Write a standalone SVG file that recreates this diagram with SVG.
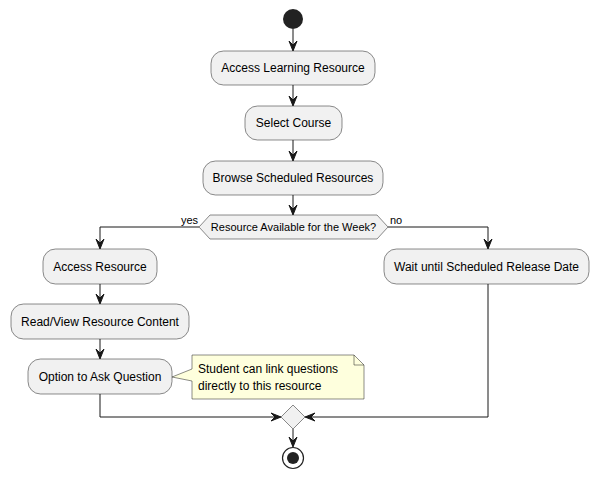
<svg xmlns="http://www.w3.org/2000/svg" width="599" height="480" viewBox="0 0 599 480">
<defs>
<style>
.box{fill:#F1F1F1;stroke:#181818;stroke-width:0.5}
.t{font-family:"Liberation Sans",Arial,sans-serif;font-size:12px;fill:#000}
.s{font-family:"Liberation Sans",Arial,sans-serif;font-size:11px;fill:#000}
.ln{fill:none;stroke:#181818;stroke-width:1}
.ah{fill:#181818;stroke:#181818;stroke-width:1}
</style>
</defs>
<rect width="599" height="480" fill="#FFFFFF"/>
<g id="start"><circle cx="293" cy="19" r="10" fill="#222222"/></g>
<g id="n1"><rect class="box" x="211" y="51" width="164" height="34" rx="12.5"/><text class="t" x="293" y="72" text-anchor="middle">Access Learning Resource</text></g>
<g id="n2"><rect class="box" x="245" y="106" width="97" height="34" rx="12.5"/><text class="t" x="293.5" y="127" text-anchor="middle">Select Course</text></g>
<g id="n3"><rect class="box" x="203" y="161" width="180" height="34" rx="12.5"/><text class="t" x="293" y="182" text-anchor="middle">Browse Scheduled Resources</text></g>
<g id="dec"><polygon class="box" points="199,227 210,215 377,215 388,227 377,239 210,239"/><text class="s" x="293.5" y="231" text-anchor="middle">Resource Available for the Week?</text></g>
<g id="n4"><rect class="box" x="43" y="249" width="114" height="35" rx="12.5"/><text class="t" x="100" y="271" text-anchor="middle">Access Resource</text></g>
<g id="n5"><rect class="box" x="11" y="304" width="178" height="35" rx="12.5"/><text class="t" x="100" y="326" text-anchor="middle">Read/View Resource Content</text></g>
<g id="n6"><rect class="box" x="28" y="359" width="144" height="35" rx="12.5"/><text class="t" x="100" y="381" text-anchor="middle">Option to Ask Question</text></g>
<g id="note"><path d="M192,355 L354,355 L364,365 L364,399 L192,399 L192,381 L172,377 L192,369 Z" fill="#FEFFDD" stroke="#181818" stroke-width="0.5"/><path d="M354,355 L354,365 L364,365" fill="none" stroke="#181818" stroke-width="0.5"/><text class="t" x="198" y="373">Student can link questions</text><text class="t" x="198" y="390">directly to this resource</text></g>
<g id="n7"><rect class="box" x="384" y="249" width="205" height="35" rx="12.5"/><text class="t" x="486.5" y="271" text-anchor="middle">Wait until Scheduled Release Date</text></g>
<g id="merge"><polygon class="box" points="293,405 305,417 293,429 281,417"/></g>
<g id="end"><circle cx="293" cy="458" r="10.5" fill="none" stroke="#222222" stroke-width="1.2"/><circle cx="293" cy="458" r="6" fill="#222222"/></g>
<g id="connectors">
<path class="ln" d="M293,29 L293,50"/><polygon class="ah" points="289,41 293,51 297,41 293,45"/>
<path class="ln" d="M293,85 L293,105"/><polygon class="ah" points="289,96 293,106 297,96 293,100"/>
<path class="ln" d="M293,140 L293,160"/><polygon class="ah" points="289,151 293,161 297,151 293,155"/>
<path class="ln" d="M293,195 L293,214"/><polygon class="ah" points="289,205 293,215 297,205 293,209"/>
<path class="ln" d="M199,227 L100,227 L100,248"/><polygon class="ah" points="96,239 100,249 104,239 100,243"/>
<text class="s" x="181" y="224">yes</text>
<path class="ln" d="M388,227 L488,227 L488,248"/><polygon class="ah" points="484,239 488,249 492,239 488,243"/>
<text class="s" x="390" y="224">no</text>
<path class="ln" d="M100,284 L100,303"/><polygon class="ah" points="96,294 100,304 104,294 100,298"/>
<path class="ln" d="M100,339 L100,358"/><polygon class="ah" points="96,349 100,359 104,349 100,353"/>
<path class="ln" d="M100,394 L100,417 L280,417"/><polygon class="ah" points="271,413 281,417 271,421 275,417"/>
<path class="ln" d="M488,284 L488,417 L306,417"/><polygon class="ah" points="315,413 305,417 315,421 311,417"/>
<path class="ln" d="M293,429 L293,446"/><polygon class="ah" points="289,437 293,447 297,437 293,441"/>
</g>
</svg>
